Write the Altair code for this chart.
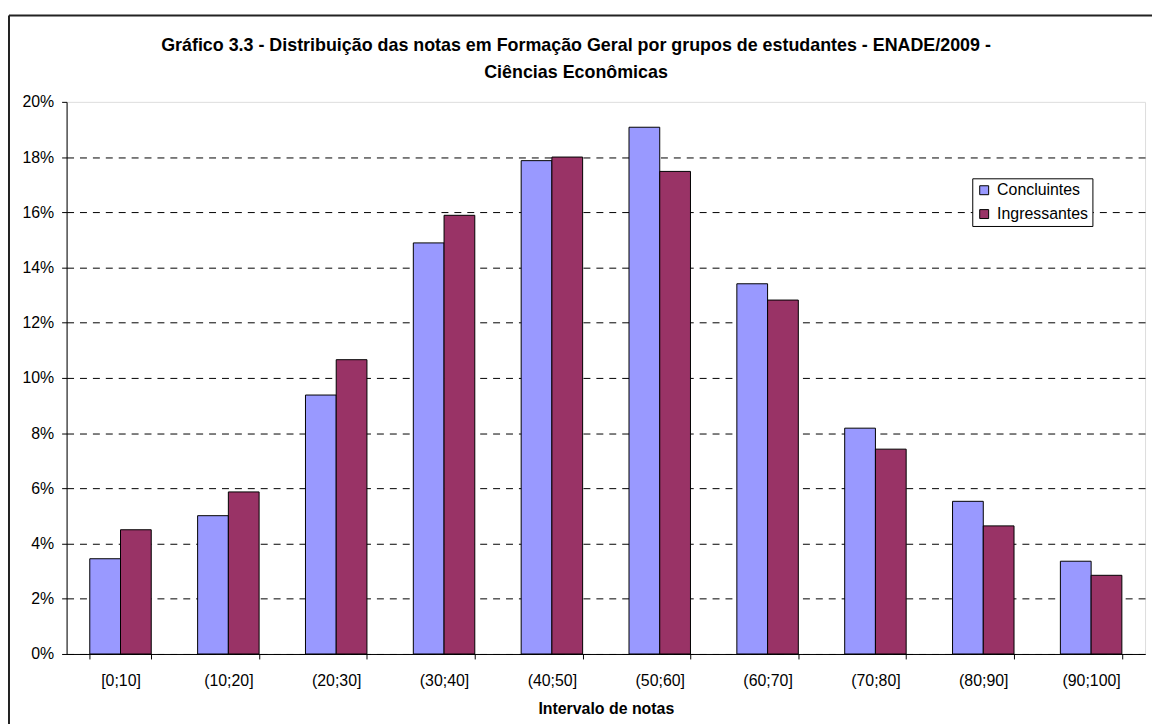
import altair as alt
import pandas as pd

categories = ["[0;10]", "(10;20]", "(20;30]", "(30;40]", "(40;50]",
              "(50;60]", "(60;70]", "(70;80]", "(80;90]", "(90;100]"]
concluintes = [3.45, 5.01, 9.38, 14.89, 17.87, 19.08, 13.41, 8.18, 5.53, 3.36]
ingressantes = [4.50, 5.87, 10.66, 15.89, 18.00, 17.48, 12.82, 7.42, 4.64, 2.85]
series = ["Concluintes", "Ingressantes"]
colors = ["#9999FF", "#993366"]
y_ticks = [0, 0.02, 0.04, 0.06, 0.08, 0.10, 0.12, 0.14, 0.16, 0.18, 0.20]
title_lines = ["Gráfico 3.3 - Distribuição das notas em Formação Geral por grupos de estudantes - ENADE/2009 -",
               "Ciências Econômicas"]

rows = []
for c, a, b in zip(categories, concluintes, ingressantes):
    rows.append({"Intervalo": c, "Grupo": series[0], "valor": a / 100})
    rows.append({"Intervalo": c, "Grupo": series[1], "valor": b / 100})
df = pd.DataFrame(rows)

FONT = "Liberation Sans"

bars = alt.Chart(df).mark_bar(stroke="black", strokeWidth=1).encode(
    x=alt.X("Intervalo:N", sort=categories,
            scale=alt.Scale(paddingInner=0.43, paddingOuter=0.215),
            axis=alt.Axis(title="Intervalo de notas", labelAngle=0, tickBand="extent",
                          domainColor="black", tickColor="black", tickSize=5,
                          labelPadding=14, labelFontSize=16, labelColor="black",
                          labelFont=FONT, titleFont=FONT, titleFontSize=16,
                          titleFontWeight="bold", titleColor="black", titlePadding=12,
                          grid=False)),
    xOffset=alt.XOffset("Grupo:N", sort=series, scale=alt.Scale(paddingInner=0, paddingOuter=0)),
    y=alt.Y("valor:Q", scale=alt.Scale(domain=[0, 0.2], nice=False),
            axis=alt.Axis(title=None, values=y_ticks, format=".0%",
                          domainColor="black", tickColor="black", tickSize=5,
                          labelPadding=8, labelFontSize=16, labelColor="black",
                          labelFont=FONT,
                          grid=True, gridColor="black", gridDash=[7, 6], gridWidth=1,
                          gridOpacity=alt.condition("datum.value >= 0.2", alt.value(0), alt.value(1)))),
    fill=alt.Fill("Grupo:N", sort=series,
                  scale=alt.Scale(domain=series, range=colors),
                  legend=alt.Legend(title=None, orient="none", legendX=912, legendY=77,
                                    symbolType="square", symbolSize=81,
                                    symbolStrokeColor="black", symbolStrokeWidth=1,
                                    labelFontSize=16, labelFont=FONT, labelColor="black",
                                    labelOffset=5, rowPadding=8,
                                    strokeColor="black", fillColor="white", padding=4)),
)

frame_data = alt.Data(values=[{"k": 1}])
frame_left = alt.Chart(frame_data).mark_rule(color="#222222", strokeWidth=2).encode(
    x=alt.value(-58), y=alt.value(-87), y2=alt.value(700))
frame_top = alt.Chart(frame_data).mark_rule(color="#222222", strokeWidth=2).encode(
    x=alt.value(-58), x2=alt.value(1200), y=alt.value(-87))

title1 = alt.Chart(alt.Data(values=[{"t": title_lines[0]}])).mark_text(
    font=FONT, fontSize=18, fontWeight="bold", color="black", align="center", baseline="middle"
).encode(text="t:N", x=alt.value(513), y=alt.value(-56))
title2 = alt.Chart(alt.Data(values=[{"t": title_lines[1]}])).mark_text(
    font=FONT, fontSize=18, fontWeight="bold", color="black", align="center", baseline="middle"
).encode(text="t:N", x=alt.value(513), y=alt.value(-29))

chart = alt.layer(bars, frame_left, frame_top, title1, title2).properties(
    width=1086, height=556,
    autosize=alt.AutoSizeParams(type="none"),
    padding={"left": 59, "top": 92, "right": 7, "bottom": 68},
).configure_view(stroke="#888888", strokeWidth=1.5).configure(background="white")

chart.save("out.html", embed_options={"renderer": "svg", "actions": False})
